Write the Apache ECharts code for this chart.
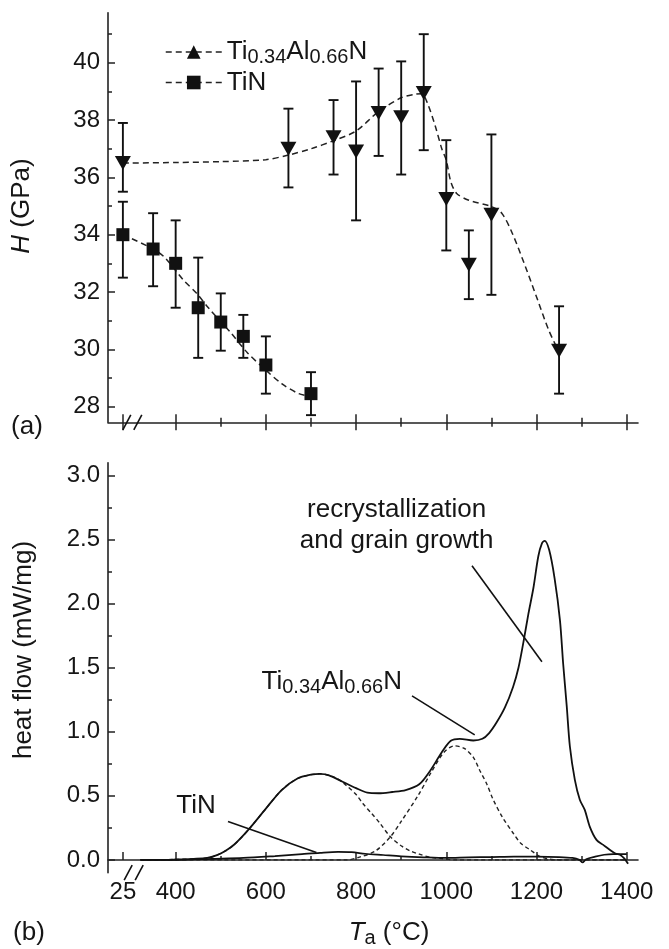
<!DOCTYPE html>
<html><head><meta charset="utf-8">
<script src="https://cdn.jsdelivr.net/npm/echarts@6/dist/echarts.min.js"></script>
<style>html,body{margin:0;padding:0;background:#fff}#c{width:669px;height:949px}</style>
</head><body><div id="c"></div>
<script>
// ---------- data ----------
const ALN_NAME = 'Ti0.34Al0.66N';
const POS25 = 283; // axis position standing for 25 °C (broken axis)

// (a) hardness, Ti0.34Al0.66N
const alnT  = [25, 650, 750, 800, 850, 900, 950, 1000, 1050, 1100, 1250];
const alnH  = [36.5, 37.0, 37.4, 36.9, 38.25, 38.1, 38.95, 35.25, 32.95, 34.7, 29.95];
const alnHi = [37.9, 38.4, 38.7, 39.35, 39.8, 40.05, 41.0, 37.3, 34.15, 37.5, 31.5];
const alnLo = [35.5, 35.65, 36.1, 34.5, 36.75, 36.1, 36.95, 33.45, 31.75, 31.9, 28.45];
// (a) hardness, TiN
const tinT  = [25, 350, 400, 450, 500, 550, 600, 700];
const tinH  = [34.0, 33.5, 33.0, 31.45, 30.95, 30.45, 29.45, 28.45];
const tinHi = [35.15, 34.75, 34.5, 33.2, 31.95, 31.2, 30.45, 29.2];
const tinLo = [32.5, 32.2, 31.45, 29.7, 29.95, 29.7, 28.45, 27.7];
// (a) guide-to-the-eye dashed lines
const alnFitT = [25, 400, 500, 600, 650, 700, 750, 800, 850, 900, 930, 945, 958, 976, 990, 1000, 1010, 1023, 1050, 1100, 1123, 1146, 1175, 1203, 1227, 1250];
const alnFitH = [36.5, 36.52, 36.55, 36.62, 36.78, 37.0, 37.28, 37.62, 38.3, 38.78, 38.9, 38.92, 38.6, 37.77, 37.0, 36.6, 35.85, 35.44, 35.2, 34.98, 34.75, 34.06, 32.9, 31.7, 30.67, 29.9];
const tinFitT = [25, 350, 376, 417, 446, 473, 521, 559, 598, 635, 673, 700];
const tinFitH = [34.0, 33.5, 33.2, 32.42, 31.96, 31.44, 30.6, 29.88, 29.3, 28.8, 28.45, 28.35];

// (b) DSC heat flow
const sumT  = [322, 360, 400, 440, 470, 490, 510, 530, 560, 600, 635, 670, 700, 720, 740, 770, 800, 825, 850, 880, 910, 940, 965, 990, 1010, 1030, 1060, 1080, 1095, 1111, 1130, 1148, 1160, 1171, 1182, 1193, 1204, 1212, 1218, 1228, 1240, 1252, 1259, 1267, 1274, 1285, 1296, 1307, 1318, 1333, 1348, 1363, 1375, 1385, 1395, 1403];
const sumHF = [0.0, 0.0, 0.003, 0.008, 0.015, 0.035, 0.07, 0.12, 0.23, 0.40, 0.545, 0.635, 0.665, 0.672, 0.66, 0.61, 0.56, 0.525, 0.52, 0.53, 0.545, 0.59, 0.70, 0.84, 0.93, 0.945, 0.932, 0.945, 0.99, 1.07, 1.19, 1.35, 1.5, 1.70, 1.92, 2.12, 2.37, 2.47, 2.49, 2.42, 2.2, 1.87, 1.535, 1.20, 0.885, 0.625, 0.47, 0.39, 0.26, 0.156, 0.117, 0.078, 0.05, 0.04, 0.01, -0.03];
const tinDscT  = [322, 400, 480, 550, 620, 680, 720, 760, 790, 820, 860, 900, 950, 1000, 1050, 1100, 1150, 1200, 1250, 1280, 1295, 1302, 1310, 1330, 1350, 1370, 1400];
const tinDscHF = [0.0, 0.0, 0.008, 0.015, 0.03, 0.045, 0.055, 0.062, 0.06, 0.048, 0.038, 0.028, 0.02, 0.015, 0.02, 0.022, 0.025, 0.025, 0.022, 0.015, 0.0, -0.02, 0.005, 0.025, 0.04, 0.045, 0.045];
const pk1T  = [322, 400, 440, 470, 490, 510, 530, 560, 600, 635, 670, 700, 720, 740, 760, 777, 800, 815, 835, 852, 876, 900, 920, 940, 965, 990, 1020, 1100, 1400];
const pk1HF = [0, 0.003, 0.008, 0.015, 0.035, 0.07, 0.12, 0.23, 0.40, 0.545, 0.635, 0.665, 0.672, 0.66, 0.63, 0.585, 0.51, 0.44, 0.36, 0.29, 0.18, 0.11, 0.07, 0.045, 0.02, 0.01, 0, 0, 0];
const pk2T  = [322, 780, 806, 843, 876, 900, 937, 966, 995, 1018, 1040, 1060, 1074, 1090, 1104, 1125, 1148, 1165, 1185, 1208, 1230, 1260, 1400];
const pk2HF = [0, 0, 0.02, 0.07, 0.18, 0.3, 0.5, 0.68, 0.84, 0.89, 0.87, 0.80, 0.70, 0.59, 0.47, 0.33, 0.21, 0.13, 0.08, 0.026, 0.005, 0, 0];

// ticks
const topYTicks = [28, 30, 32, 34, 36, 38, 40];
const topYMinor = [29, 31, 33, 35, 37, 39, 41];
const botYTicks = [0, 0.5, 1.0, 1.5, 2.0, 2.5, 3.0];
const botYMinor = [0.25, 0.75, 1.25, 1.75, 2.25, 2.75];
const xMajor = [25, 400, 600, 800, 1000, 1200, 1400];
const xMinor = [500, 700, 900, 1100, 1300];

// ---------- helpers ----------
const px = t => (t === 25 ? POS25 : t);
const FONT = "'Liberation Sans', Arial, sans-serif";
const INK = '#161616';
const LINE = '#222';
const pairs = (xs, ys) => xs.map((t, i) => [px(t), ys[i]]);
const errs = (xs, lo, hi) => xs.map((t, i) => [px(t), lo[i], hi[i]]);

const chart = echarts.init(document.getElementById('c'), null, {renderer: 'canvas'});

function errRender(params, api) {
  const x = api.value(0);
  const top = api.coord([x, api.value(2)]);
  const bot = api.coord([x, api.value(1)]);
  const w = 5;
  const st = {stroke: '#111', lineWidth: 1.9};
  return {type: 'group', children: [
    {type: 'line', shape: {x1: top[0], y1: top[1], x2: bot[0], y2: bot[1]}, style: st},
    {type: 'line', shape: {x1: top[0] - w, y1: top[1], x2: top[0] + w, y2: top[1]}, style: st},
    {type: 'line', shape: {x1: bot[0] - w, y1: bot[1], x2: bot[0] + w, y2: bot[1]}, style: st}
  ]};
}

const axLine = {show: true, lineStyle: {color: LINE, width: 1.6}};
const tickStyle = {color: LINE, width: 1.5};
const noSplit = {show: false};
const X0 = 250, X1 = 1425;

const option = {
  animation: false,
  backgroundColor: '#fff',
  textStyle: {fontFamily: FONT},
  grid: [
    {left: 108, right: 31, top: 12.7, bottom: 526.7},
    {left: 108, right: 31, top: 462.7, bottom: 76.3}
  ],
  xAxis: [
    {gridIndex: 0, type: 'value', min: X0, max: X1, axisLine: axLine, axisTick: {show: false}, axisLabel: {show: false}, splitLine: noSplit},
    {gridIndex: 0, type: 'value', min: X0, max: X1, position: 'bottom', offset: -8, axisLine: {show: false},
      axisTick: {show: true, length: 16, lineStyle: tickStyle, customValues: xMajor.map(px)}, axisLabel: {show: false}, splitLine: noSplit},
    {gridIndex: 0, type: 'value', min: X0, max: X1, position: 'bottom', offset: -4.5, axisLine: {show: false},
      axisTick: {show: true, length: 9, lineStyle: tickStyle, customValues: xMinor}, axisLabel: {show: false}, splitLine: noSplit},
    {gridIndex: 1, type: 'value', min: X0, max: X1, position: 'bottom', axisLine: axLine,
      axisTick: {show: true, inside: true, length: 8, lineStyle: tickStyle, customValues: xMajor.map(px)},
      axisLabel: {show: true, customValues: xMajor.map(px), margin: 8, fontSize: 24, color: INK, fontFamily: FONT,
        formatter: v => (v === POS25 ? '25' : String(v))}, splitLine: noSplit},
    {gridIndex: 1, type: 'value', min: X0, max: X1, position: 'bottom', axisLine: {show: false},
      axisTick: {show: true, inside: true, length: 4, lineStyle: tickStyle, customValues: xMinor}, axisLabel: {show: false}, splitLine: noSplit}
  ],
  yAxis: [
    {gridIndex: 0, type: 'value', min: 27.45, max: 41.75, axisLine: axLine,
      axisTick: {show: true, inside: true, length: 7, lineStyle: tickStyle, customValues: topYTicks},
      axisLabel: {show: true, customValues: topYTicks, margin: 8, fontSize: 24, color: INK, fontFamily: FONT}, splitLine: noSplit},
    {gridIndex: 0, type: 'value', min: 27.45, max: 41.75, position: 'left', axisLine: {show: false},
      axisTick: {show: true, inside: true, length: 4, lineStyle: tickStyle, customValues: topYMinor}, axisLabel: {show: false}, splitLine: noSplit},
    {gridIndex: 1, type: 'value', min: -0.1, max: 3.1, axisLine: axLine,
      axisTick: {show: true, inside: true, length: 7, lineStyle: tickStyle, customValues: botYTicks},
      axisLabel: {show: true, customValues: botYTicks, margin: 8, fontSize: 24, color: INK, fontFamily: FONT,
        formatter: v => v.toFixed(1)}, splitLine: noSplit},
    {gridIndex: 1, type: 'value', min: -0.1, max: 3.1, position: 'left', axisLine: {show: false},
      axisTick: {show: true, inside: true, length: 4, lineStyle: tickStyle, customValues: botYMinor}, axisLabel: {show: false}, splitLine: noSplit}
  ],
  legend: {
    show: true, orient: 'vertical', left: 160, top: 34, itemWidth: 56, itemHeight: 17, itemGap: 2,
    data: [ALN_NAME, 'TiN'], symbolRotate: 0,
    lineStyle: {type: [6, 4], width: 1.5, color: '#222', opacity: 1},
    textStyle: {fontSize: 26, color: INK, fontFamily: FONT,
      rich: {n: {fontSize: 26, lineHeight: 31, fontFamily: FONT, color: INK},
             s: {fontSize: 20, lineHeight: 18, verticalAlign: 'bottom', fontFamily: FONT, color: INK}}},
    formatter: name => (name === ALN_NAME ? '{n|Ti}{s|0.34}{n|Al}{s|0.66}{n|N}' : '{n|TiN}')
  },
  series: [
    {type: 'line', name: 'alnFit', xAxisIndex: 0, yAxisIndex: 0, data: pairs(alnFitT, alnFitH), showSymbol: false, smooth: 0.3,
      lineStyle: {color: '#222', width: 1.5, type: [6, 4]}, z: 2, silent: true},
    {type: 'line', name: 'tinFit', xAxisIndex: 0, yAxisIndex: 0, data: pairs(tinFitT, tinFitH), showSymbol: false, smooth: 0.3,
      lineStyle: {color: '#222', width: 1.5, type: [6, 4]}, z: 2, silent: true},
    {type: 'custom', name: 'alnErr', xAxisIndex: 0, yAxisIndex: 0, renderItem: errRender, data: errs(alnT, alnLo, alnHi), z: 3, encode: {x: 0, y: [1, 2]}},
    {type: 'custom', name: 'tinErr', xAxisIndex: 0, yAxisIndex: 0, renderItem: errRender, data: errs(tinT, tinLo, tinHi), z: 3, encode: {x: 0, y: [1, 2]}},
    {type: 'line', name: ALN_NAME, xAxisIndex: 0, yAxisIndex: 0, data: pairs(alnT, alnH), symbol: 'triangle', symbolRotate: 180,
      symbolSize: [16, 14], showSymbol: true, itemStyle: {color: '#111'}, lineStyle: {width: 0, opacity: 0}, z: 5},
    {type: 'line', name: 'TiN', xAxisIndex: 0, yAxisIndex: 0, data: pairs(tinT, tinH), symbol: 'rect',
      symbolSize: 13, showSymbol: true, itemStyle: {color: '#111'}, lineStyle: {width: 0, opacity: 0}, z: 5},

    {type: 'line', name: 'pk1', xAxisIndex: 3, yAxisIndex: 2, data: pairs(pk1T, pk1HF), showSymbol: false, smooth: 0.3,
      lineStyle: {color: '#222', width: 1.4, type: [4, 3]}, z: 2},
    {type: 'line', name: 'pk2', xAxisIndex: 3, yAxisIndex: 2, data: pairs(pk2T, pk2HF), showSymbol: false, smooth: 0.3,
      lineStyle: {color: '#222', width: 1.4, type: [4, 3]}, z: 2},
    {type: 'line', name: 'tinDsc', xAxisIndex: 3, yAxisIndex: 2, data: pairs(tinDscT, tinDscHF), showSymbol: false, smooth: 0.3,
      lineStyle: {color: '#111', width: 1.7}, z: 3},
    {type: 'line', name: 'sum', xAxisIndex: 3, yAxisIndex: 2, data: pairs(sumT, sumHF), showSymbol: false, smooth: 0.3,
      lineStyle: {color: '#111', width: 1.8}, z: 4}
  ]
};
chart.setOption(option);

// ---------- annotations ----------
const toB = (t, v) => chart.convertToPixel({xAxisIndex: 3, yAxisIndex: 2}, [t, v]);
const toA = (t, v) => chart.convertToPixel({xAxisIndex: 0, yAxisIndex: 0}, [t, v]);
const annLines = [
  [[1057, 2.295], [1212, 1.546]],
  [[924, 1.28], [1063, 0.976]],
  [[516, 0.299], [712, 0.057]]
];
const g = [];
annLines.forEach(([a, b]) => {
  const p = toB(a[0], a[1]), q = toB(b[0], b[1]);
  g.push({type: 'line', shape: {x1: p[0], y1: p[1], x2: q[0], y2: q[1]}, style: {stroke: '#111', lineWidth: 1.6}, z: 10});
});
function txt(x, y, text, opts, size) {
  const fs = size || 26;
  return {type: 'text', x, y, z: 10, style: Object.assign({
    text, fill: INK, font: fs + 'px ' + FONT, fontSize: fs, fontFamily: FONT,
    align: 'center', verticalAlign: 'middle', textAlign: 'center', textVerticalAlign: 'middle'}, opts || {})};
}
const richStyle = {
  n: {fontSize: 26, lineHeight: 31, fontFamily: FONT, fill: INK, color: INK},
  i: {fontSize: 26, lineHeight: 31, fontFamily: FONT, fontStyle: 'italic', fill: INK, color: INK},
  s: {fontSize: 20, lineHeight: 18, verticalAlign: 'bottom', fontFamily: FONT, fill: INK, color: INK}
};
g.push(txt(toB(890, 0)[0], 510, 'recrystallization'));
g.push(txt(toB(890, 0)[0], 541, 'and grain growth'));
g.push(txt(toB(746, 0)[0], 682, '{n|Ti}{s|0.34}{n|Al}{s|0.66}{n|N}', {rich: richStyle}));
g.push(txt(toB(445, 0)[0], 806, 'TiN'));
// panel letters and axis titles
g.push(txt(27, 427, '(a)'));
g.push(txt(29, 933, '(b)'));
g.push(txt(389, 933, '{i|T}{s|a}{n| (°C)}', {rich: richStyle}));
g.push(Object.assign(txt(22, 206, '{i|H}{n| (GPa)}', {rich: richStyle}), {rotation: Math.PI / 2}));
g.push(Object.assign(txt(24, 650, 'heat flow (mW/mg)'), {rotation: Math.PI / 2}));
// axis break marks
function brk(pt) {
  const cx = pt[0], cy = pt[1];
  const st = {stroke: '#111', lineWidth: 1.6};
  g.push({type: 'line', shape: {x1: cx - 10, y1: cy + 7.5, x2: cx - 2, y2: cy - 7.5}, style: st, z: 10});
  g.push({type: 'line', shape: {x1: cx + 1, y1: cy + 7.5, x2: cx + 9, y2: cy - 7.5}, style: st, z: 10});
}
brk(toA(305, 27.45));
brk(toB(308, -0.1));
chart.setOption({graphic: g});
</script>
</body></html>
